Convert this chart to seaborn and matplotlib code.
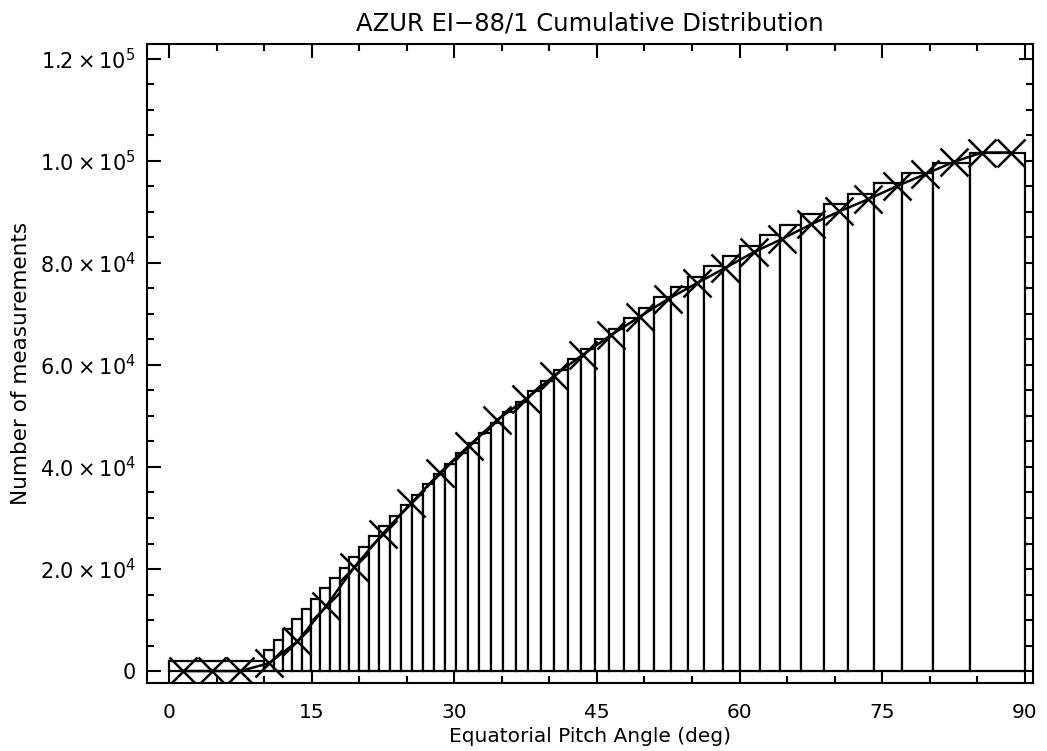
import numpy as np
import pandas as pd
import matplotlib
matplotlib.use("Agg")
import matplotlib.pyplot as plt
import seaborn as sns
from matplotlib.ticker import MultipleLocator

# ---- data ----
bin_edges = [0.0, 9.96, 11.01, 11.96, 12.94, 13.95, 14.94, 15.92, 16.97, 17.99,
             18.97, 20.02, 21.07, 22.12, 23.25, 24.41, 25.52, 26.68, 27.91, 29.01,
             30.19, 31.41, 32.64, 33.87, 35.16, 36.50, 37.79, 39.13, 40.53, 41.92,
             43.33, 44.81, 46.31, 47.89, 49.47, 51.04, 52.80, 54.54, 56.30, 58.22,
             60.05, 62.16, 64.26, 66.47, 68.84, 71.37, 74.10, 77.05, 80.38, 84.24,
             90.0]
cum_counts = [2060, 4030, 6130, 8210, 10180, 12220, 14100, 16240, 18280, 20270,
              22300, 24400, 26430, 28390, 30420, 32520, 34540, 36590, 38670, 40640,
              42800, 44760, 46730, 48690, 50800, 52820, 54920, 56890, 58990, 61070,
              63040, 65080, 67050, 69130, 71170, 73250, 75220, 77320, 79310, 81380,
              83380, 85380, 87400, 89510, 91530, 93570, 95600, 97620, 99670, 101630]

curve_angle = [1.5, 4.5, 7.5, 10.5, 13.5, 16.5, 19.5, 22.5, 25.5, 28.5,
               31.5, 34.5, 37.5, 40.5, 43.5, 46.5, 49.5, 52.5, 55.5, 58.5,
               61.5, 64.5, 67.5, 70.5, 73.5, 76.5, 79.5, 82.5, 85.5, 88.5]
curve_count = [0, 0, 0, 1530, 5800, 12670, 20400, 26960, 32970, 38870,
               44110, 49200, 53290, 57870, 62000, 65870, 69460, 72940, 76000, 79030,
               82100, 84730, 87540, 90100, 92450, 95010, 97370, 99780, 101630, 101630]

x_ticks = [0, 15, 30, 45, 60, 75, 90]
y_ticks = [0, 20000, 40000, 60000, 80000, 100000, 120000]
y_tick_labels = ["0", r"$\mathregular{2.0\times10^{4}}$", r"$\mathregular{4.0\times10^{4}}$",
                 r"$\mathregular{6.0\times10^{4}}$", r"$\mathregular{8.0\times10^{4}}$",
                 r"$\mathregular{1.0\times10^{5}}$", r"$\mathregular{1.2\times10^{5}}$"]

# ---- style ----
sns.set_style("ticks")
plt.rcParams["font.family"] = ["DejaVu Sans"]
plt.rcParams["mathtext.fontset"] = "dejavusans"
plt.rcParams["axes.linewidth"] = 1.5
plt.rcParams["text.color"] = "black"
plt.rcParams["axes.labelcolor"] = "black"

fig = plt.figure(figsize=(10.47, 7.51), dpi=100)
ax = fig.add_axes([146.7 / 1047, 1 - 683.3 / 751, (1033 - 146.7) / 1047, (683.3 - 44) / 751])

edges = np.array(bin_edges)
centers = (edges[:-1] + edges[1:]) / 2
df_bars = pd.DataFrame({"angle": centers, "count": cum_counts})
sns.histplot(data=df_bars, x="angle", weights="count", bins=bin_edges, ax=ax,
             element="bars", fill=True, color="white", edgecolor="black",
             linewidth=1.6, alpha=1, zorder=2)

df_curve = pd.DataFrame({"angle": curve_angle, "count": curve_count})
sns.lineplot(data=df_curve, x="angle", y="count", ax=ax, color="black",
             linewidth=1.8, marker="x", markersize=20, markeredgewidth=1.8,
             markeredgecolor="black", zorder=3)

ax.set_xlim(-2.34, 90.85)
ax.set_ylim(-2400, 122900)
ax.set_xticks(x_ticks)
ax.set_xticklabels([str(v) for v in x_ticks])
ax.set_yticks(y_ticks)
ax.set_yticklabels(y_tick_labels)
ax.xaxis.set_minor_locator(MultipleLocator(5))
ax.yaxis.set_minor_locator(MultipleLocator(5000))
ax.tick_params(which="both", direction="in", top=True, right=True, width=1.5,
               colors="black", labelcolor="black")
ax.tick_params(axis="x", which="major", length=10, labelsize=14.5, pad=14)
ax.tick_params(axis="y", which="major", length=10, labelsize=15, pad=8)
ax.tick_params(which="minor", length=5)
for s in ax.spines.values():
    s.set_visible(True)
    s.set_color("black")

ax.set_xlabel("Equatorial Pitch Angle (deg)", fontsize=14.5, labelpad=4, color="black")
ax.set_ylabel("Number of measurements", fontsize=15.5, labelpad=6, color="black")
ax.set_title("AZUR EI\u221288/1 Cumulative Distribution", fontsize=17.5, pad=10, color="black")

fig.savefig("out.png", dpi=100, facecolor="white")
